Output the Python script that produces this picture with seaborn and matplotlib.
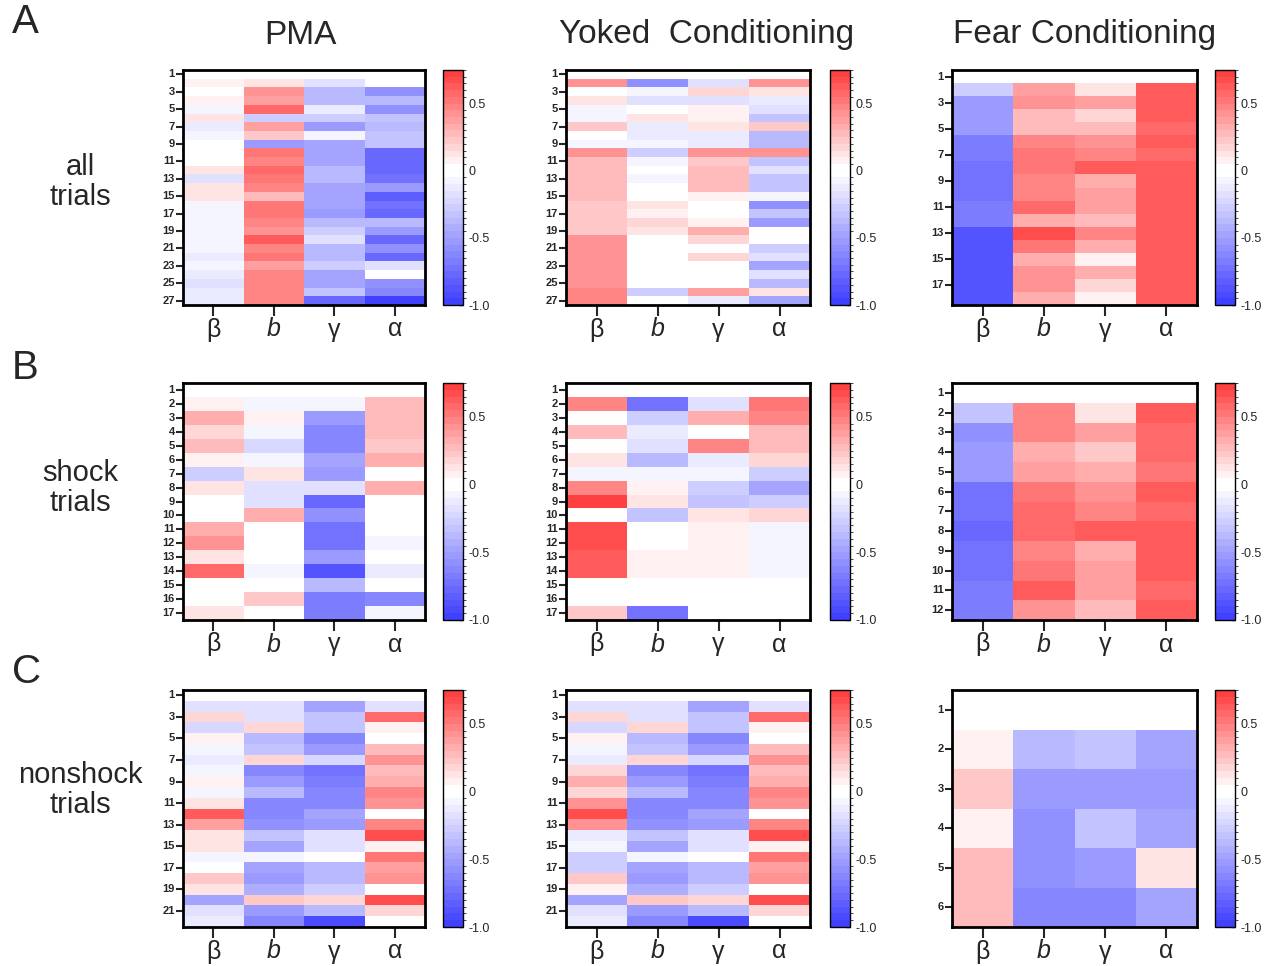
import numpy as np
import pandas as pd
import matplotlib
matplotlib.use('Agg')
import matplotlib.pyplot as plt
import seaborn as sns
from matplotlib.colors import ListedColormap, BoundaryNorm

sns.set_style('white')
plt.rcParams['font.family'] = ['Liberation Sans', 'DejaVu Sans']

params = ['β', 'b', 'γ', 'α']
col_titles = ['PMA', 'Yoked  Conditioning', 'Fear Conditioning']
row_titles = ['all\ntrials', 'shock\ntrials', 'nonshock\ntrials']
row_letters = ['A', 'B', 'C']
nan = np.nan

# rows = trials, columns = beta, b, gamma, alpha (trial 1 is blank)
pma_all = [
    [nan, nan, nan, nan], [0.08, 0.12, -0.2, 0.0], [0.0, 0.4, -0.39, -0.59],
    [0.08, 0.38, -0.39, -0.39], [-0.1, 0.55, -0.13, -0.59], [0.1, -0.26, -0.26, -0.33],
    [-0.13, 0.35, -0.52, -0.39], [-0.1, 0.2, -0.1, -0.33], [0.02, -0.52, -0.46, -0.33],
    [0.0, 0.5, -0.46, -0.78], [0.0, 0.45, -0.46, -0.78], [0.1, 0.55, -0.39, -0.78],
    [-0.2, 0.5, -0.39, -0.72], [0.12, 0.45, -0.46, -0.52], [0.12, 0.25, -0.46, -0.85],
    [-0.1, 0.5, -0.46, -0.72], [-0.1, 0.5, -0.52, -0.78], [-0.1, 0.45, -0.39, -0.39],
    [-0.1, 0.4, -0.26, -0.52], [-0.1, 0.6, -0.2, -0.78], [-0.1, 0.45, -0.39, -0.59],
    [-0.13, 0.5, -0.39, -0.78], [-0.07, 0.35, -0.26, -0.2], [-0.13, 0.45, -0.46, 0.0],
    [-0.16, 0.45, -0.46, -0.59], [-0.13, 0.45, -0.33, -0.65], [-0.13, 0.45, -0.78, -1.0],
]
yoked_all = [
    [nan, nan, nan, nan], [0.4, -0.59, -0.2, 0.4], [0.0, -0.07, 0.15, 0.12],
    [0.12, -0.2, -0.2, -0.13], [-0.1, -0.04, 0.08, -0.2], [-0.1, 0.1, 0.08, -0.33],
    [0.2, -0.13, 0.1, 0.2], [-0.03, -0.13, -0.13, -0.39], [-0.07, -0.07, -0.13, -0.39],
    [0.4, -0.26, 0.4, 0.4], [0.25, -0.1, 0.2, -0.33], [0.28, 0.03, 0.25, -0.2],
    [0.25, -0.07, 0.25, -0.33], [0.25, 0.03, 0.25, -0.33], [0.28, 0.0, 0.08, -0.07],
    [0.2, 0.1, 0.0, -0.59], [0.2, 0.05, 0.03, -0.33], [0.2, 0.15, 0.05, -0.52],
    [0.2, 0.1, 0.3, -0.03], [0.4, 0.0, 0.15, 0.0], [0.4, -0.03, 0.02, -0.26],
    [0.4, -0.03, 0.15, -0.2], [0.4, 0.0, 0.0, -0.46], [0.42, 0.0, 0.03, -0.2],
    [0.42, 0.0, -0.04, -0.39], [0.45, -0.26, 0.35, 0.1], [0.45, 0.0, -0.13, -0.46],
]
fear_all = [
    [nan, nan, nan, nan], [-0.26, 0.35, 0.1, 0.6], [-0.52, 0.4, 0.35, 0.6],
    [-0.52, 0.25, 0.18, 0.6], [-0.52, 0.25, 0.28, 0.55], [-0.7, 0.45, 0.4, 0.6],
    [-0.7, 0.5, 0.45, 0.58], [-0.72, 0.5, 0.6, 0.62], [-0.72, 0.45, 0.32, 0.62],
    [-0.72, 0.45, 0.35, 0.62], [-0.7, 0.55, 0.35, 0.6], [-0.7, 0.3, 0.28, 0.6],
    [-0.86, 0.68, 0.45, 0.6], [-0.86, 0.5, 0.32, 0.6], [-0.86, 0.32, 0.08, 0.6],
    [-0.86, 0.4, 0.32, 0.6], [-0.86, 0.4, 0.15, 0.6], [-0.86, 0.32, 0.05, 0.6],
]
pma_shock = [
    [nan, nan, nan, nan], [0.05, -0.07, -0.1, 0.25], [0.3, 0.05, -0.52, 0.25],
    [0.18, -0.07, -0.65, 0.25], [0.25, -0.23, -0.65, 0.2], [0.08, -0.07, -0.46, 0.3],
    [-0.26, 0.1, -0.52, 0.0], [0.1, -0.2, -0.2, 0.3], [0.02, -0.2, -0.8, 0.0],
    [0.02, 0.3, -0.59, 0.0], [0.3, 0.0, -0.75, 0.0], [0.4, -0.04, -0.75, -0.1],
    [0.1, 0.0, -0.52, 0.0], [0.55, -0.07, -0.88, -0.13], [0.0, 0.02, -0.36, 0.0],
    [-0.05, 0.2, -0.7, -0.62], [0.1, 0.0, -0.7, -0.07],
]
yoked_shock = [
    [nan, nan, nan, nan], [0.45, -0.75, -0.2, 0.5], [0.04, -0.26, 0.3, 0.45],
    [0.25, -0.13, -0.04, 0.25], [-0.05, -0.16, 0.45, 0.28], [0.1, -0.39, -0.13, 0.15],
    [-0.08, -0.08, -0.1, -0.29], [0.45, 0.08, -0.26, -0.46], [0.7, 0.1, -0.33, -0.26],
    [0.0, -0.33, 0.12, 0.18], [0.65, 0.0, 0.08, -0.1], [0.65, 0.02, 0.08, -0.1],
    [0.62, 0.05, 0.08, -0.1], [0.62, 0.05, 0.08, -0.1], [0.03, 0.0, 0.0, 0.0],
    [0.04, 0.04, 0.0, 0.0], [0.2, -0.75, 0.0, 0.0],
]
fear_shock = [
    [nan, nan, nan, nan], [-0.33, 0.45, 0.12, 0.6], [-0.59, 0.45, 0.35, 0.58],
    [-0.52, 0.3, 0.2, 0.58], [-0.55, 0.35, 0.3, 0.52], [-0.72, 0.5, 0.4, 0.6],
    [-0.72, 0.55, 0.45, 0.57], [-0.8, 0.57, 0.62, 0.6], [-0.72, 0.45, 0.3, 0.6],
    [-0.72, 0.5, 0.35, 0.6], [-0.7, 0.62, 0.35, 0.57], [-0.7, 0.42, 0.28, 0.6],
]
pma_nonshock = [
    [nan, nan, nan, nan], [-0.2, -0.2, -0.46, -0.2], [0.15, -0.2, -0.33, 0.55],
    [-0.23, 0.15, -0.33, 0.08], [0.06, -0.39, -0.65, 0.03], [-0.07, -0.33, -0.52, 0.25],
    [-0.13, 0.15, -0.23, 0.4], [-0.1, -0.65, -0.75, 0.28], [0.08, -0.52, -0.7, 0.3],
    [-0.07, -0.39, -0.65, 0.45], [0.1, -0.65, -0.65, 0.4], [0.6, -0.65, -0.46, 0.0],
    [0.38, -0.59, -0.52, 0.45], [0.1, -0.33, -0.2, 0.65], [0.1, -0.46, -0.2, 0.05],
    [-0.08, -0.08, 0.0, 0.5], [-0.04, -0.49, -0.36, 0.38], [0.2, -0.52, -0.36, 0.42],
    [0.1, -0.42, -0.29, 0.0], [-0.46, 0.2, 0.15, 0.65], [-0.2, -0.52, -0.39, 0.15],
    [-0.13, -0.65, -0.95, 0.0],
]
yoked_nonshock = [
    [nan, nan, nan, nan], [-0.2, -0.2, -0.46, -0.2], [0.15, -0.2, -0.33, 0.55],
    [-0.23, 0.15, -0.33, 0.08], [0.06, -0.39, -0.65, 0.03], [-0.07, -0.33, -0.52, 0.25],
    [-0.13, 0.15, -0.23, 0.4], [0.15, -0.65, -0.75, 0.28], [0.3, -0.52, -0.7, 0.3],
    [0.18, -0.39, -0.65, 0.45], [0.4, -0.65, -0.65, 0.4], [0.65, -0.65, -0.46, 0.0],
    [0.4, -0.59, -0.52, 0.45], [-0.13, -0.33, -0.2, 0.65], [-0.08, -0.46, -0.2, 0.05],
    [-0.29, -0.08, 0.0, 0.5], [-0.26, -0.49, -0.36, 0.38], [0.2, -0.52, -0.36, 0.42],
    [0.08, -0.42, -0.29, 0.0], [-0.49, 0.2, 0.15, 0.65], [-0.2, -0.52, -0.39, 0.15],
    [-0.13, -0.65, -0.95, 0.0],
]
fear_nonshock = [
    [nan, nan, nan, nan], [0.05, -0.36, -0.33, -0.46], [0.2, -0.52, -0.52, -0.52],
    [0.05, -0.59, -0.33, -0.46], [0.25, -0.59, -0.55, 0.1], [0.25, -0.65, -0.65, -0.46],
]

panels = [
    [pma_all, yoked_all, fear_all],
    [pma_shock, yoked_shock, fear_shock],
    [pma_nonshock, yoked_nonshock, fear_nonshock],
]
# label every row (1) or every other row (2)
tick_step = [[2, 2, 2], [1, 1, 1], [2, 2, 1]]

# stepped blue-white-red map, white around 0, range -1 .. 0.75
vmin, vmax, step = -1.0, 0.75, 0.05
bounds = np.round(np.arange(vmin, vmax + step / 2, step), 3)
blue = np.array([0.25, 0.25, 1.0])
red = np.array([1.0, 0.25, 0.25])
white = np.ones(3)
cols = []
for lo, hi in zip(bounds[:-1], bounds[1:]):
    if lo >= 0:
        cols.append(white + (red - white) * (lo / (vmax - step)))
    else:
        cols.append(white + (blue - white) * (hi / (vmin + step)))
cmap = ListedColormap(cols)
norm = BoundaryNorm(bounds, cmap.N)

W, H = 1273, 966
fig = plt.figure(figsize=(W / 100, H / 100), dpi=100)

hm_x = [(183, 425), (566, 810), (952, 1197)]
cb_x = [(443, 463), (830, 850), (1215, 1235)]
rows_y = [(70, 305), (383, 620), (690, 927)]


def ax_rect(x0, x1, y0, y1):
    return [x0 / W, 1 - y1 / H, (x1 - x0) / W, (y1 - y0) / H]


for r in range(3):
    for c in range(3):
        vals = np.array(panels[r][c], dtype=float)
        n = vals.shape[0]
        df = pd.DataFrame(vals, columns=params, index=range(1, n + 1))
        ax = fig.add_axes(ax_rect(*hm_x[c], *rows_y[r]))
        cax = fig.add_axes(ax_rect(*cb_x[c], *rows_y[r]))
        sns.heatmap(df, ax=ax, cmap=cmap, norm=norm, cbar=True, cbar_ax=cax)
        ax.set_facecolor('white')
        for s in ax.spines.values():
            s.set_visible(True)
            s.set_linewidth(2)
            s.set_color('black')
        st = tick_step[r][c]
        idx = list(range(0, n, st))
        ax.set_yticks([i + 0.5 for i in idx])
        ax.set_yticklabels([str(i + 1) for i in idx], rotation=0, fontsize=8, fontweight='bold')
        ax.set_xticks([i + 0.5 for i in range(4)])
        ax.set_xticklabels(params, fontsize=18, rotation=0)
        ax.get_xticklabels()[1].set_fontstyle('italic')
        ax.tick_params(axis='x', length=8, width=1.5, direction='out', bottom=True, pad=1)
        ax.tick_params(axis='y', length=5, width=1.5, direction='out', left=True, pad=1)
        ax.set_xlabel('')
        ax.set_ylabel('')

        cax.set_yticks([-1.0, -0.5, 0, 0.5])
        cax.set_yticklabels(['-1.0', '-0.5', '0', '0.5'], fontsize=9)
        cax.tick_params(length=3, width=1, direction='in', right=True, pad=4)
        cb = ax.collections[0].colorbar
        cb.outline.set_edgecolor('black')
        cb.outline.set_linewidth(1)

# column titles
for x, t in zip([300, 707, 1085], col_titles):
    fig.text(x / W, 1 - 35 / H, t, ha='center', va='center', fontsize=24)

# row labels and panel letters
for yc, t in zip([182, 488, 790], row_titles):
    fig.text(80 / W, 1 - yc / H, t, ha='center', va='center',
             fontsize=21, linespacing=1.05)
for y, l in zip([22, 368, 672], row_letters):
    fig.text(12 / W, 1 - y / H, l, ha='left', va='center', fontsize=29)

fig.savefig('out.png', dpi=100)
